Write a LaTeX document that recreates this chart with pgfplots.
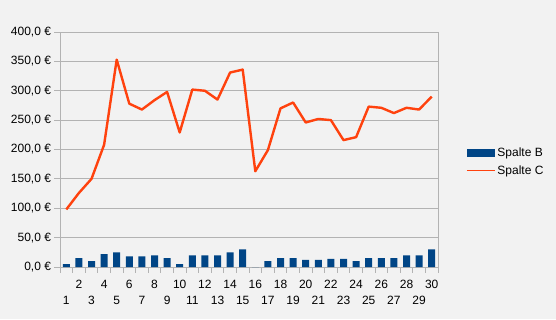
\documentclass[border=0pt]{standalone}
\usepackage{fontspec}
\setmainfont{Liberation Sans}
\usepackage{pgfplots}
\pgfplotsset{compat=1.18}
\definecolor{bg}{HTML}{F2F2F2}
\definecolor{barblue}{HTML}{004586}
\definecolor{linered}{HTML}{FF420E}
\definecolor{gridgray}{HTML}{B3B3B3}
\newcommand{\lo}[1]{\raisebox{-16pt}{#1}}
\begin{document}
\begin{tikzpicture}
\fill[bg] (0pt,0pt) rectangle (556pt,319pt);
\begin{axis}[
  at={(60pt,52pt)}, anchor=south west,
  scale only axis, width=378pt, height=235pt,
  xmin=0.5, xmax=30.5, ymin=0, ymax=400,
  font=\fontsize{12}{14}\selectfont,
  /pgf/number format/assume math mode=true,
  axis line style={gridgray, line width=0.9pt},
  ymajorgrids, grid style={gridgray, line width=0.9pt},
  ytick={0,50,...,400},
  yticklabel={\pgfmathprintnumber[fixed,fixed zerofill,precision=1,use comma]{\tick}~€},
  tick align=outside,
  major tick length=5.5pt,
  ytick pos=left, xtick pos=bottom,
  tick style={gridgray, line width=1pt},
  xtick={0.5,1.5,...,30.5},
  xticklabels={\lo{1},2,\lo{3},4,\lo{5},6,\lo{7},8,\lo{9},10,\lo{11},12,\lo{13},14,\lo{15},16,\lo{17},18,\lo{19},20,\lo{21},22,\lo{23},24,\lo{25},26,\lo{27},28,\lo{29},30,{}},
  xticklabel style={anchor=base, xshift=6.3pt, yshift=-16pt},
  legend style={at={(1.066,0.447)}, anchor=west, draw=none, fill=none, font=\fontsize{12}{14}\selectfont, row sep=3pt},
  legend cell align=left,
]
\addplot[ybar, bar width=7pt, fill=barblue, draw=none,
  legend image code/.code={\fill[barblue] (0pt,-4pt) rectangle (28pt,4pt);}]
  coordinates {(1,5) (2,15) (3,10) (4,22) (5,25) (6,18) (7,18) (8,20) (9,15) (10,5)
  (11,20) (12,20) (13,20) (14,25) (15,30) (16,0) (17,10) (18,15) (19,15) (20,12)
  (21,12) (22,14) (23,14) (24,10) (25,15) (26,15) (27,15) (28,20) (29,20) (30,30)};
\addlegendentry{Spalte B}
\addplot[sharp plot, linered, line width=2.4pt, line join=round, mark=none,
  legend image code/.code={\draw[linered, line width=1.3pt] (0pt,0pt) -- (28pt,0pt);}]
  coordinates {(1,98) (2,126) (3,150) (4,208) (5,353) (6,278) (7,268) (8,284) (9,298) (10,229)
  (11,302) (12,300) (13,285) (14,331) (15,336) (16,163) (17,199) (18,270) (19,280) (20,246)
  (21,252) (22,250) (23,216) (24,221) (25,273) (26,271) (27,262) (28,271) (29,268) (30,290)};
\addlegendentry{Spalte C}
\end{axis}
\end{tikzpicture}
\end{document}
